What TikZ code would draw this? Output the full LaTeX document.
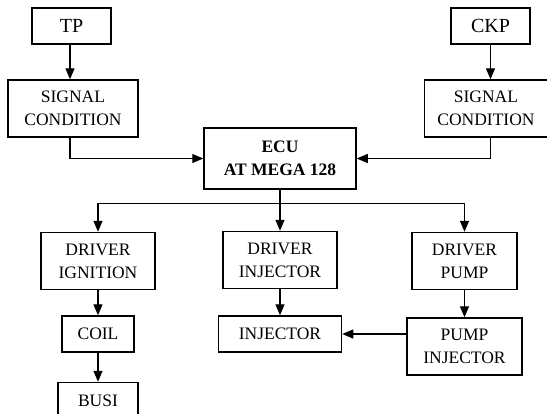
\documentclass[tikz,border=0pt]{standalone}
\usepackage{fontspec}
\setmainfont{Liberation Serif}
\usetikzlibrary{positioning,arrows.meta}

\begin{document}
\begin{tikzpicture}[
    x=1pt, y=-1pt,
    node distance=26pt,
    block/.style={rectangle, draw, line width=1.5pt, inner sep=0pt, align=center,
        font=\fontsize{17.5}{23}\selectfont, minimum height=36pt},
    tallblock/.style={block, minimum height=57pt},
    sensor/.style={block, minimum width=79pt, font=\fontsize{20}{24}\selectfont},
    ecubox/.style={tallblock, minimum width=152pt, minimum height=61pt,
        font=\fontsize{17.5}{23}\selectfont\bfseries},
    arrow/.style={-{Triangle[length=11pt,width=9pt]}, line width=1.3pt}
]
\useasboundingbox (0,0) rectangle (547,413);

% ===== SENSORS =====
\node[sensor] (tp) at (71.5,26) {TP};
\node[sensor] (ckp) at (490.5,26) {CKP};

\node[tallblock, minimum width=130pt] (sc1) at (73,108.5) {SIGNAL\\CONDITION};
\node[tallblock, minimum width=123pt] (sc2) at (486,108.5) {SIGNAL\\CONDITION};

% ===== ECU =====
\node[ecubox] (ecu) at (280,158.5) {ECU\\AT MEGA 128};

% ===== DRIVERS =====
\node[tallblock, minimum width=114pt] (drvign) at (98,261) {DRIVER\\IGNITION};
\node[tallblock, minimum width=114pt] (drvinj) at (280,260) {DRIVER\\INJECTOR};
\node[tallblock, minimum width=105pt] (drvpump) at (464.5,261) {DRIVER\\PUMP};

% ===== ACTUATORS =====
\node[block, minimum width=72pt, below=25pt of drvign] (coil) {COIL};
\node[block, minimum width=80pt, below=29pt of coil] (busi) {BUSI};
\node[block, minimum width=123pt, below=of drvinj] (inj) {INJECTOR};
\node[tallblock, minimum width=115pt, below=27pt of drvpump] (pumpinj) {PUMP\\INJECTOR};

% ===== ARROWS - INPUTS =====
\draw[arrow] (tp.south -| 70,0) -- (sc1.north -| 70,0);
\draw[arrow] (ckp.south) -- (ckp.south |- sc2.north);
\draw[arrow] (sc1.south -| 70,0) |- (ecu.west);
\draw[arrow] (ckp.south |- sc2.south) |- (ecu.east);

% ===== ARROWS - OUTPUTS =====
\draw[line width=1.3pt] (ecu.south) -- ++(0,14) coordinate (split);
\draw[arrow] (split) -| (drvign.north);
\draw[arrow] (split) -| (drvpump.north);
\draw[arrow] (split) -- (drvinj.north);

\draw[arrow] (drvign) -- (coil);
\draw[arrow] (coil) -- (busi);
\draw[arrow] (drvinj) -- (inj);
\draw[arrow] (drvpump) -- (pumpinj);
\draw[arrow] (pumpinj.west |- inj.east) -- (inj.east);

\end{tikzpicture}
\end{document}
